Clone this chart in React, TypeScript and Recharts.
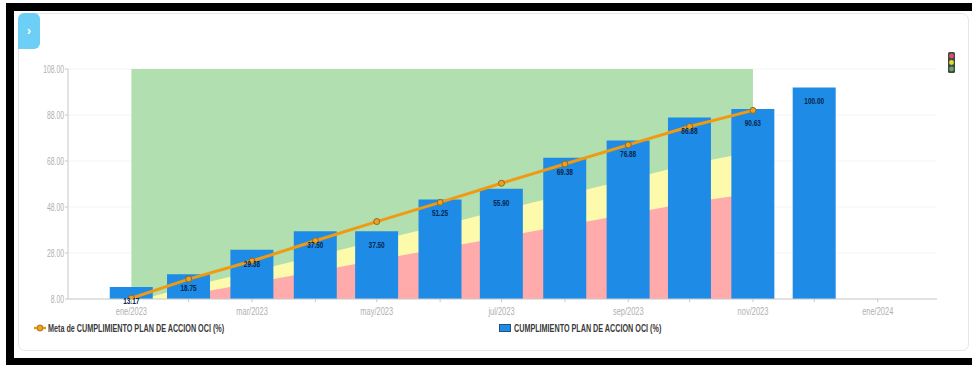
import React from "react";
import {
  ComposedChart,
  Area,
  Bar,
  Line,
  XAxis,
  YAxis,
  CartesianGrid,
  LabelList,
  Legend,
} from "recharts";

const fechas = [
  "2023-01-01", "2023-01-29", "2023-03-01", "2023-04-01", "2023-05-01", "2023-06-01",
  "2023-07-01", "2023-08-01", "2023-09-01", "2023-10-01", "2023-11-01", "2023-12-01",
];
const cumplimiento = [13.17, 18.75, 29.38, 37.5, 37.5, 51.25, 55.9, 69.38, 76.88, 86.88, 90.63, 100];
const meta = [8.33, 16.67, 24.5, 33.33, 41.67, 50, 58.33, 66.67, 75, 83, 90, null];
const bandaVerde = [108, 108, 108, 108, 108, 108, 108, 108, 108, 108, 108, null];
const bandaAmarilla = [6.67, 13.33, 20, 26.67, 33.33, 40, 46.67, 53.33, 60, 66.67, 72, null];
const bandaRoja = [5, 10, 15, 20, 25, 30, 35, 40, 45, 50, 54, null];

const ticksY = [8, 28, 48, 68, 88, 108];
const ticksX: [string, string][] = [
  ["2023-01-01", "ene/2023"],
  ["2023-01-29", ""],
  ["2023-03-01", "mar/2023"],
  ["2023-04-01", ""],
  ["2023-05-01", "may/2023"],
  ["2023-06-01", ""],
  ["2023-07-01", "jul/2023"],
  ["2023-08-01", ""],
  ["2023-09-01", "sep/2023"],
  ["2023-10-01", ""],
  ["2023-11-01", "nov/2023"],
  ["2023-12-01", ""],
  ["2024-01-01", "ene/2024"],
];

const NOMBRE_META = "Meta de CUMPLIMIENTO PLAN DE ACCION OCI (%)";
const NOMBRE_BARRA = "CUMPLIMIENTO PLAN DE ACCION OCI (%)";
const FUENTE = "'Liberation Sans', sans-serif";

const ms = (iso: string) => Date.parse(iso + "T00:00:00Z");
const etiquetas = new Map(ticksX.map(([f, t]) => [ms(f), t]));

const filas = fechas.map((f, i) => ({
  fecha: ms(f),
  cumplimiento: cumplimiento[i],
  meta: meta[i],
  verde: bandaVerde[i],
  amarilla: bandaAmarilla[i],
  roja: bandaRoja[i],
}));

// No condensed face is installed, so narrow text is obtained by squeezing it horizontally.
function TextoEstrecho(props: {
  x: number;
  y: number;
  texto: string;
  anchor: "start" | "middle" | "end";
  size: number;
  fill: string;
  weight?: number;
  escala: number;
}) {
  const { x, y, texto, anchor, size, fill, weight = 400, escala } = props;
  return (
    <text
      transform={`translate(${x},${y}) scale(${escala},1)`}
      textAnchor={anchor}
      dominantBaseline="central"
      fontFamily={FUENTE}
      fontSize={size}
      fontWeight={weight}
      fill={fill}
    >
      {texto}
    </text>
  );
}

function TickX(p: any) {
  return (
    <TextoEstrecho
      x={p.x}
      y={p.y + 6}
      texto={etiquetas.get(p.payload.value) ?? ""}
      anchor="middle"
      size={11}
      fill="#b0b0b0"
      escala={0.68}
    />
  );
}

function TickY(p: any) {
  return (
    <TextoEstrecho
      x={p.x}
      y={p.y}
      texto={Number(p.payload.value).toFixed(2)}
      anchor="end"
      size={11}
      fill="#b0b0b0"
      escala={0.62}
    />
  );
}

function EtiquetaBarra(p: any) {
  return (
    <TextoEstrecho
      x={p.x + p.width / 2}
      y={p.y + 14}
      texto={Number(p.value).toFixed(2)}
      anchor="middle"
      size={9}
      fill="#06264f"
      weight={700}
      escala={0.72}
    />
  );
}

function Leyenda() {
  const texto: React.CSSProperties = {
    position: "absolute",
    top: 0,
    fontFamily: FUENTE,
    fontWeight: 700,
    fontSize: 11,
    lineHeight: "12px",
    color: "#3a3a3a",
    whiteSpace: "nowrap",
    transformOrigin: "0 50%",
    transform: "scaleX(0.655)",
  };
  return (
    <div style={{ position: "relative", width: 972, height: 12 }}>
      <svg width={14} height={12} style={{ position: "absolute", left: 34, top: 0 }}>
        <line x1={0} y1={6} x2={12} y2={6} stroke="#f09a12" strokeWidth={2.5} />
        <circle cx={6} cy={6} r={3} fill="#f0a020" stroke="#a87820" />
      </svg>
      <span style={{ ...texto, left: 48 }}>{NOMBRE_META}</span>
      <span
        style={{
          position: "absolute",
          left: 499,
          top: 2,
          width: 10,
          height: 6,
          background: "#1e8ce6",
          border: "1px solid #23527c",
        }}
      />
      <span style={{ ...texto, left: 514 }}>{NOMBRE_BARRA}</span>
    </div>
  );
}

export default function App() {
  return (
    <div
      style={{
        position: "absolute",
        left: 0,
        top: 0,
        width: 972,
        height: 365,
        overflow: "hidden",
        background: "#000",
      }}
    >
      <div style={{ position: "absolute", left: 0, top: 0, width: 6, height: 365, background: "#fff" }} />
      <div style={{ position: "absolute", left: 0, top: 0, width: 972, height: 3, background: "#fff" }} />
      <div style={{ position: "absolute", left: 14, top: 11, width: 958, height: 347, background: "#fff" }} />
      <div
        style={{
          position: "absolute",
          left: 18,
          top: 13,
          width: 951,
          height: 338,
          boxSizing: "border-box",
          border: "1px solid #e6e6e6",
          borderRadius: 7,
        }}
      />
      <div style={{ position: "absolute", left: 0, top: 0 }}>
        <ComposedChart
          width={972}
          height={365}
          data={filas}
          margin={{ top: 69, right: 35, bottom: 0, left: 8 }}
        >
          <XAxis
            dataKey="fecha"
            type="number"
            scale="linear"
            domain={[ms("2022-12-01"), ms("2024-01-30")]}
            ticks={ticksX.map(([f]) => ms(f))}
            interval={0}
            height={30}
            tickSize={3}
            tickMargin={3}
            axisLine={{ stroke: "#c8c8c8", strokeWidth: 1 }}
            tickLine={{ stroke: "#c8c8c8" }}
            tick={<TickX />}
          />
          <YAxis
            type="number"
            width={60}
            domain={[8, 108]}
            allowDataOverflow
            ticks={ticksY}
            interval={0}
            tickSize={3}
            tickMargin={1}
            axisLine={{ stroke: "#c8c8c8", strokeWidth: 1 }}
            tickLine={{ stroke: "#c8c8c8" }}
            tick={<TickY />}
          />
          <Area dataKey="verde" type="linear" fill="#b2dfb0" fillOpacity={1} stroke="none" isAnimationActive={false} legendType="none" />
          <Area dataKey="amarilla" type="linear" fill="#fdfbab" fillOpacity={1} stroke="none" isAnimationActive={false} legendType="none" />
          <Area dataKey="roja" type="linear" fill="#ffabab" fillOpacity={1} stroke="none" isAnimationActive={false} legendType="none" />
          <CartesianGrid vertical={false} stroke="rgba(0,0,0,0.045)" />
          <Bar dataKey="cumplimiento" name={NOMBRE_BARRA} fill="#1e8ce6" barSize={43} isAnimationActive={false}>
            <LabelList dataKey="cumplimiento" content={<EtiquetaBarra />} />
          </Bar>
          <Line
            dataKey="meta"
            name={NOMBRE_META}
            type="linear"
            stroke="#f09a12"
            strokeWidth={3}
            dot={{ r: 3, fill: "#f0a020", stroke: "#8a6a20", strokeWidth: 1 }}
            isAnimationActive={false}
          />
          <Legend
            verticalAlign="bottom"
            height={36}
            content={() => <Leyenda />}
            wrapperStyle={{ left: 0, bottom: 7, width: 972 }}
          />
        </ComposedChart>
      </div>
      <div
        style={{
          position: "absolute",
          left: 18,
          top: 13,
          width: 22,
          height: 36,
          background: "#6dcff6",
          borderRadius: "6px 6px 6px 0",
          color: "#fff",
          fontFamily: FUENTE,
          fontSize: 12,
          fontWeight: 700,
          lineHeight: "36px",
          textAlign: "center",
        }}
      >
        ›
      </div>
      <svg width={8} height={22} style={{ position: "absolute", left: 948, top: 52 }}>
        <rect x={0} y={0} width={7} height={21} rx={1.5} fill="#3c4a42" />
        <circle cx={3.5} cy={4} r={2.4} fill="#e0506a" />
        <circle cx={3.5} cy={10.5} r={2.4} fill="#e6d83c" />
        <circle cx={3.5} cy={17} r={2.4} fill="#6aa060" />
      </svg>
    </div>
  );
}
